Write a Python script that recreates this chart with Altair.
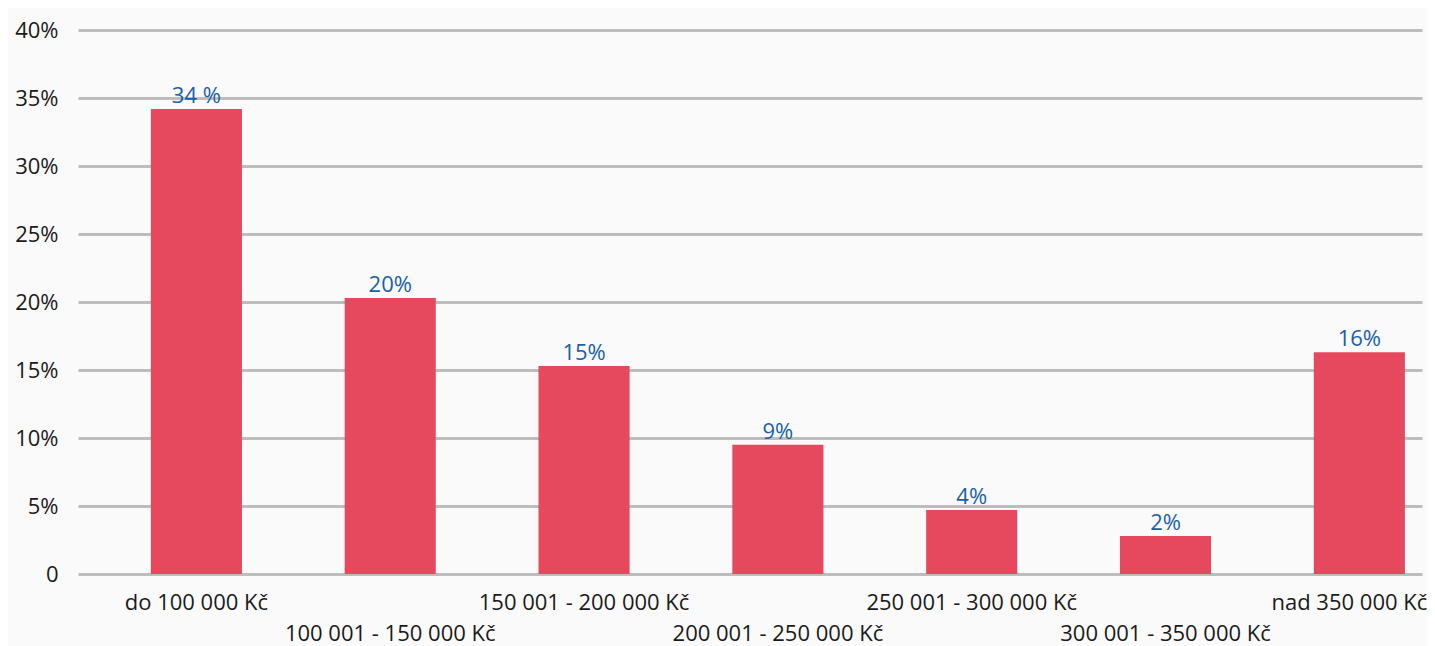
import altair as alt
import pandas as pd

categories = ["do 100 000 Kč", "100 001 - 150 000 Kč", "150 001 - 200 000 Kč",
              "200 001 - 250 000 Kč", "250 001 - 300 000 Kč", "300 001 - 350 000 Kč",
              "nad 350 000 Kč"]
values = [34.2, 20.3, 15.3, 9.5, 4.7, 2.8, 16.3]
value_labels = ["34 %", "20%", "15%", "9%", "4%", "2%", "16%"]
y_ticks = [0, 5, 10, 15, 20, 25, 30, 35, 40]

df = pd.DataFrame({"cat": categories, "val": values, "lab": value_labels})

FONT = "Open Sans"
cat_list = "[" + ",".join("'" + c + "'" for c in categories) + "]"
label_expr = f"indexof({cat_list}, datum.value) % 2 == 1 ? ['', datum.label] : datum.label"
last_test = f"datum.value == '{categories[-1]}'"

x = alt.X("cat:N", sort=categories, title=None,
          scale=alt.Scale(paddingInner=0.53, paddingOuter=0.232, align=0.81),
          axis=alt.Axis(labelAngle=0, domain=False, ticks=False, grid=False,
                        labelExpr=label_expr, labelLineHeight=31, labelPadding=18,
                        labelOffset={"condition": {"test": last_test, "value": -10}, "value": 0},
                        labelFont=FONT, labelFontSize=22, labelColor="#1a1a1a",
                        labelOverlap=False, labelBound=False, labelLimit=0))
y = alt.Y("val:Q", title=None,
          scale=alt.Scale(domain=[0, 40], nice=False),
          axis=alt.Axis(values=y_ticks, domain=False, ticks=False, grid=True,
                        gridColor="#BDBDBD", gridWidth=3, gridOpacity=1,
                        labelExpr="datum.value == 0 ? '0' : datum.value + '%'",
                        labelPadding=20, labelFont=FONT, labelFontSize=22,
                        labelColor="#1a1a1a"))

bars = alt.Chart(df).mark_bar(color="#E6495D").encode(x=x, y=y)
texts = alt.Chart(df).mark_text(color="#1B5FAA", font=FONT, fontSize=22,
                                baseline="alphabetic", dy=-6).encode(
    x=alt.X("cat:N", sort=categories), y="val:Q", text="lab:N")

chart = (bars + texts).properties(
    width=1344, height=544,
    autosize=alt.AutoSizeParams(type="none"),
    padding={"left": 70, "top": 22, "right": 5, "bottom": 72},
    background="#FAFAFA",
).configure_view(stroke=None)

chart.save("out.html", embed_options={"renderer": "svg", "actions": False})
